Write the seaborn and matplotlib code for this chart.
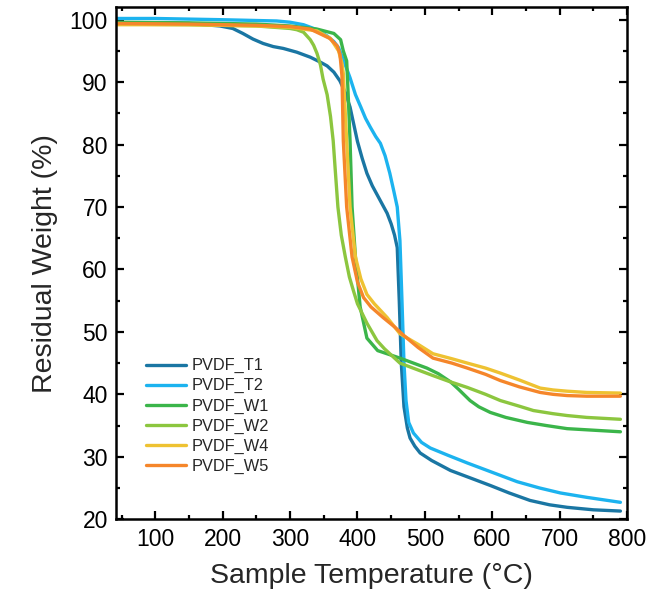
import pandas as pd
import seaborn as sns
import matplotlib.pyplot as plt
from matplotlib.ticker import MultipleLocator

# TGA curves (temperature in C, residual weight in %)
temp_t1 = [42, 100, 150, 196, 215, 230, 245, 260, 275, 290, 310, 330, 345, 355, 365, 374, 382, 389, 395, 400, 407, 414, 422, 430, 437, 444, 450, 455, 459,
           462, 465, 469, 474, 478, 485, 493, 510, 538, 570, 597, 625, 656, 685, 711, 750, 790]
wt_t1 = [99.5, 99.5, 99.4, 99.0, 98.6, 97.8, 96.9, 96.2, 95.7, 95.4, 94.8, 94.0, 93.2, 92.6, 91.6, 90.2, 88.3, 86.0, 83.0, 80.5, 77.8, 75.4, 73.4, 71.8, 70.4, 69.0, 67.3, 65.5, 63.5,
         55.0, 45.0, 38.0, 34.6, 33.0, 31.7, 30.6, 29.4, 27.8, 26.5, 25.4, 24.2, 23.0, 22.3, 21.9, 21.5, 21.3]

temp_t2 = [42, 100, 200, 280, 300, 320, 340, 355, 365, 372, 379, 389, 397, 405, 412, 419, 427, 434, 441, 448, 454, 459, 463,
           466, 469, 472, 476, 483, 495, 508, 535, 563, 600, 637, 670, 701, 740, 790]
wt_t2 = [100.2, 100.2, 100.0, 99.8, 99.6, 99.2, 98.4, 97.4, 96.5, 95.5, 93.6, 90.7, 88.0, 86.0, 84.2, 82.8, 81.3, 80.2, 78.2, 75.4, 72.5, 70.0, 64.6,
         55.0, 45.0, 39.0, 35.5, 33.8, 32.3, 31.4, 30.2, 29.0, 27.5, 26.0, 25.0, 24.2, 23.5, 22.7]

temp_w1 = [42, 150, 250, 300, 340, 365, 375, 379, 384, 386, 389, 392, 397, 404, 414, 430, 463, 503, 520, 538, 550, 567, 580, 597, 620, 652, 680, 711, 790]
wt_w1 = [99.6, 99.5, 99.3, 99.0, 98.5, 97.8, 96.8, 95.0, 93.4, 88.6, 80.6, 70.0, 62.0, 54.0, 49.0, 47.0, 45.8, 44.2, 43.3, 42.0, 40.8, 39.0, 38.0, 37.1, 36.3, 35.5, 35.0, 34.5, 34.0]

temp_w2 = [42, 150, 250, 300, 310, 320, 330, 335, 340, 345, 349, 355, 360, 364, 367, 371, 376, 382, 388, 394, 400, 414, 429, 440,
           463, 480, 512, 535, 563, 590, 612, 640, 661, 690, 711, 740, 790]
wt_w2 = [99.3, 99.2, 99.0, 98.6, 98.4, 98.0, 96.8, 95.9, 94.6, 92.8, 90.5, 88.0, 84.5, 80.6, 76.0, 70.0, 65.5, 62.0, 58.8, 56.6, 54.5, 51.4, 48.6, 47.3,
         45.0, 44.3, 43.0, 42.1, 41.1, 40.0, 39.0, 38.1, 37.4, 36.9, 36.6, 36.3, 36.0]

temp_w4 = [42, 150, 250, 300, 340, 360, 372, 377, 379, 384, 389, 397, 405, 414, 425, 444, 463, 490, 512, 540, 563, 590, 612, 640, 671, 690, 711, 740, 790]
wt_w4 = [99.2, 99.2, 99.0, 98.8, 98.2, 97.0, 95.0, 93.0, 91.4, 80.6, 70.0, 62.0, 58.5, 56.0, 54.5, 52.3, 49.7, 48.0, 46.5, 45.7, 45.0, 44.2, 43.4, 42.3, 41.0, 40.7, 40.5, 40.3, 40.2]

temp_w5 = [42, 150, 250, 300, 330, 359, 370, 374, 377, 379, 384, 392, 400, 409, 420, 438, 455, 468, 490, 512, 540, 563, 590, 612, 640, 671, 690, 711, 740, 790]
wt_w5 = [99.4, 99.3, 99.1, 98.9, 98.5, 97.0, 95.8, 94.5, 91.0, 80.6, 70.0, 62.0, 58.0, 55.5, 54.0, 52.3, 50.8, 49.5, 47.5, 45.8, 45.0, 44.2, 43.2, 42.2, 41.2, 40.3, 40.0, 39.8, 39.7, 39.7]

samples = ["PVDF_T1", "PVDF_T2", "PVDF_W1", "PVDF_W2", "PVDF_W4", "PVDF_W5"]
temps = [temp_t1, temp_t2, temp_w1, temp_w2, temp_w4, temp_w5]
weights = [wt_t1, wt_t2, wt_w1, wt_w2, wt_w4, wt_w5]
colors = ["#1a76a3", "#1cb3ef", "#3bb54a", "#8cc63f", "#eec232", "#f5862a"]

frames = []
for name, t, w in zip(samples, temps, weights):
    frames.append(pd.DataFrame({"Temperature": t, "Weight": w, "Sample": name}))
df = pd.concat(frames, ignore_index=True)

sns.set_style("ticks")
plt.rcParams["font.family"] = ["Liberation Sans", "DejaVu Sans"]

fig = plt.figure(figsize=(6.56, 6.03), dpi=100)
ax = fig.add_axes([0.177, 0.139, 0.779, 0.849])

sns.lineplot(data=df, x="Temperature", y="Weight", hue="Sample", hue_order=samples,
             palette=dict(zip(samples, colors)), sort=False, estimator=None,
             linewidth=2.4, ax=ax)
for ln in ax.lines:
    ln.set_solid_joinstyle("round")

ax.set_xlim(42, 800)
ax.set_ylim(20, 102)
ax.xaxis.set_major_locator(MultipleLocator(100))
ax.xaxis.set_minor_locator(MultipleLocator(50))
ax.yaxis.set_major_locator(MultipleLocator(10))
ax.yaxis.set_minor_locator(MultipleLocator(5))
ax.tick_params(which="both", direction="in", top=True, right=True, width=1.6, colors="black")
ax.tick_params(which="major", length=6, labelsize=16.5, pad=6)
ax.tick_params(which="minor", length=3)
for s in ax.spines.values():
    s.set_linewidth(1.8)
    s.set_color("black")

ax.set_xlabel("Sample Temperature (°C)", fontsize=20.5, labelpad=9)
ax.set_ylabel("Residual Weight (%)", fontsize=20.5, labelpad=8)

leg = ax.legend(loc="lower left", bbox_to_anchor=(0.03, 0.06), frameon=False,
                fontsize=11.8, handlelength=2.4, labelspacing=0.3, handletextpad=0.35)
for line in leg.get_lines():
    line.set_linewidth(2.4)

fig.savefig("out.png", dpi=100)
